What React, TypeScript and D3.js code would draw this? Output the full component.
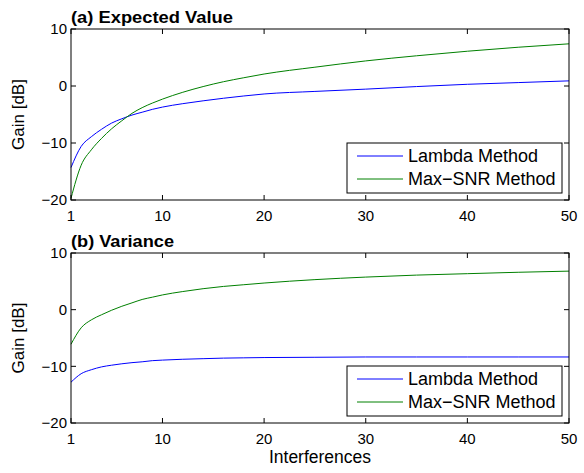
import React from 'react';
import * as d3 from 'd3';

// interference counts where values were read
const interferences = [1, 2, 3, 4, 5, 6, 7, 8, 9, 10, 12, 14, 16, 18, 20, 25, 30, 35, 40, 45, 50];

// (a) expected value, dB
const expLambda = [-14.3, -10.6, -8.9, -7.6, -6.5, -5.75, -5.1, -4.6, -4.1, -3.7, -3.1, -2.6, -2.15, -1.75, -1.4, -0.95, -0.55, -0.1, 0.3, 0.6, 0.9];
const expMaxSnr = [-19.7, -13.9, -11.2, -9.2, -7.5, -6.1, -4.8, -3.8, -3.0, -2.3, -1.1, -0.1, 0.75, 1.45, 2.1, 3.3, 4.4, 5.3, 6.1, 6.8, 7.4];

// (b) variance, dB
const varLambda = [-12.8, -11.3, -10.6, -10.1, -9.8, -9.55, -9.35, -9.2, -9.0, -8.9, -8.75, -8.65, -8.55, -8.5, -8.45, -8.4, -8.35, -8.35, -8.35, -8.35, -8.35];
const varMaxSnr = [-6.1, -3.2, -1.8, -0.9, -0.1, 0.6, 1.2, 1.8, 2.2, 2.6, 3.2, 3.7, 4.1, 4.4, 4.7, 5.3, 5.75, 6.1, 6.35, 6.6, 6.8];

const xTicks = [1, 10, 20, 30, 40, 50];
const yTicks = [-20, -10, 0, 10];
const seriesNames = ['Lambda Method', 'Max\u2212SNR Method'];
const seriesColors = ['#0000ff', '#008000'];

const FONT = '"Liberation Sans", Arial, Helvetica, sans-serif';

type PanelProps = {
  title: string;
  titleWidth: number;
  top: number;
  bottom: number;
  series: number[][];
};

const left = 71, right = 569;
const x = d3.scaleLinear().domain([1, 50]).range([left, right]);

function Panel({title, titleWidth, top, bottom, series}: PanelProps){
  const y = d3.scaleLinear().domain([-20, 10]).range([bottom, top]);
  const line = d3.line<number>()
    .x((d, i) => x(interferences[i]))
    .y((d) => y(d))
    .curve(d3.curveMonotoneX);
  const tl = 5;
  const lgX = 347, lgW = 215, lgH = 50, lgY = bottom - 7 - lgH;

  return (
    <g>
      <text x={left} y={top - 6} fontSize={16.5} fontWeight="bold" fontFamily={FONT}
        textLength={titleWidth} lengthAdjust="spacingAndGlyphs">{title}</text>
      {series.map((s, i) => (
        <path key={i} d={line(s) || ''} fill="none" stroke={seriesColors[i]} strokeWidth={1} />
      ))}
      {xTicks.map((t) => (
        <g key={'x' + t}>
          <line x1={x(t)} x2={x(t)} y1={bottom} y2={bottom - tl} stroke="#000" />
          <line x1={x(t)} x2={x(t)} y1={top} y2={top + tl} stroke="#000" />
          <text x={x(t)} y={bottom + 21} textAnchor="middle" fontSize={15} fontFamily={FONT}>{t}</text>
        </g>
      ))}
      {yTicks.map((t) => (
        <g key={'y' + t}>
          <line x1={left} x2={left + tl} y1={y(t)} y2={y(t)} stroke="#000" />
          <line x1={right} x2={right - tl} y1={y(t)} y2={y(t)} stroke="#000" />
          <text x={left - 4} y={y(t)} dy="0.36em" textAnchor="end" fontSize={15} fontFamily={FONT}>
            {t < 0 ? '\u2212' + Math.abs(t) : t}
          </text>
        </g>
      ))}
      <rect x={left} y={top} width={right - left} height={bottom - top} fill="none" stroke="#000" strokeWidth={1} />
      <text transform={`translate(24,${(top + bottom) / 2}) rotate(-90)`} textAnchor="middle" fontSize={17} fontFamily={FONT}>Gain [dB]</text>

      <rect x={lgX} y={lgY} width={lgW} height={lgH} fill="#fff" stroke="#000" strokeWidth={1} />
      {seriesNames.map((n, i) => (
        <g key={n}>
          <line x1={lgX + 10} x2={lgX + 56} y1={lgY + 13 + i * 23} y2={lgY + 13 + i * 23} stroke={seriesColors[i]} />
          <text x={lgX + 61} y={lgY + 13 + i * 23} dy="0.36em" fontSize={18} fontFamily={FONT}>{n}</text>
        </g>
      ))}
    </g>
  );
}

export default function App(){
  return (
    <div style={{position: 'fixed', left: 0, top: 0}}>
      <svg width={584} height={473} style={{display: 'block', background: '#fff'}}>
        <Panel title="(a) Expected Value" titleWidth={162} top={29} bottom={200} series={[expLambda, expMaxSnr]} />
        <Panel title="(b) Variance" titleWidth={103} top={253} bottom={423} series={[varLambda, varMaxSnr]} />
        <text x={320} y={463} textAnchor="middle" fontSize={17.5} fontFamily={FONT}>Interferences</text>
      </svg>
    </div>
  );
}
